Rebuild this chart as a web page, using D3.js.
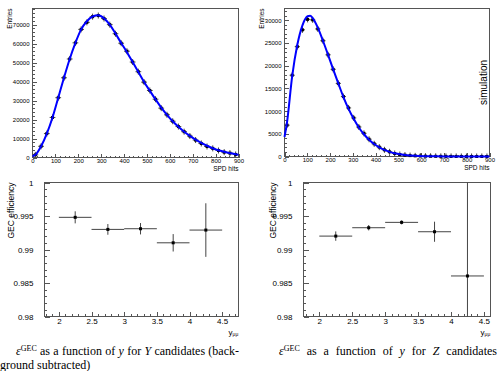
<!DOCTYPE html>

<head>
    <title>GEC efficiency</title>
    <meta charset="utf-8" />
</head>

<style>
    body {
        margin: 0;
        background: #ffffff;
    }

    .frame {
        fill: none;
        stroke: #555555;
        stroke-width: 1px;
        shape-rendering: crispEdges;
    }

    .axis path {
        display: none;
    }

    .axis line {
        stroke: #555555;
        stroke-width: 1px;
        shape-rendering: crispEdges;
    }

    .axis text,
    .label {
        font-family: "Liberation Sans", Arial, sans-serif;
        fill: #000000;
    }

    .fit {
        fill: none;
        stroke: #0000ff;
        stroke-width: 2px;
    }

    .err {
        stroke: #444444;
        stroke-width: 1px;
    }
</style>

<body>
    <svg id="chart" width="497" height="371"></svg>

    <script src="https://d3js.org/d3.v7.min.js"></script>

    <script>
        // ---- data: SPD hits, data (left)
        var spdCentersL = [12.5, 37.5, 62.5, 87.5, 112.5, 137.5, 162.5, 187.5, 212.5, 237.5, 262.5, 287.5,
            312.5, 337.5, 362.5, 387.5, 412.5, 437.5, 462.5, 487.5, 512.5, 537.5, 562.5, 587.5,
            612.5, 637.5, 662.5, 687.5, 712.5, 737.5, 762.5, 787.5, 812.5, 837.5, 862.5, 887.5];
        var spdWidthL = 25;
        var entriesL = [1400, 5900, 12600, 21100, 31500, 42000, 51900, 60400, 67500, 71200, 74200, 74800,
            73200, 70000, 65200, 60200, 56000, 50300, 45200, 39700, 35300, 30700, 26000, 22500,
            19100, 16300, 13600, 11300, 9200, 7400, 5800, 4800, 3700, 2800, 2300, 1600];
        var fitXL = [0, 12.5, 37.5, 62.5, 87.5, 112.5, 137.5, 162.5, 187.5, 212.5, 237.5, 262.5, 287.5,
            312.5, 337.5, 362.5, 387.5, 412.5, 437.5, 462.5, 487.5, 512.5, 537.5, 562.5, 587.5,
            612.5, 637.5, 662.5, 687.5, 712.5, 737.5, 762.5, 787.5, 812.5, 837.5, 862.5, 887.5, 900];
        var fitYL = [700, 1400, 5900, 12600, 21100, 31500, 42000, 51900, 60400, 67500, 71800, 74300, 74900,
            73300, 70000, 65300, 60300, 55500, 50300, 45000, 39800, 35200, 30600, 26300, 22500,
            19100, 16200, 13600, 11400, 9400, 7700, 6200, 4900, 3800, 3000, 2300, 1700, 1500];

        // ---- data: SPD hits, simulation (right)
        var spdCentersR = [11.25, 33.75, 56.25, 78.75, 101.25, 123.75, 146.25, 168.75, 191.25, 213.75,
            236.25, 258.75, 281.25, 303.75, 326.25, 348.75, 371.25, 393.75, 416.25, 438.75,
            461.25, 483.75, 506.25, 528.75, 551.25, 573.75, 596.25, 618.75, 641.25, 663.75,
            686.25, 708.75, 731.25, 753.75, 776.25, 798.75, 821.25, 843.75, 866.25, 888.75];
        var spdWidthR = 22.5;
        var entriesR = [6900, 17900, 24200, 27900, 30200, 30100, 28100, 25500, 22400, 19200,
            16100, 13200, 10700, 8500, 6500, 5100, 3800, 2800, 2060, 1470,
            1030, 660, 440, 300, 200, 140, 100, 70, 50, 35,
            25, 18, 12, 8, 6, 4, 3, 2, 1, 1];
        var fitXR = [0, 11.25, 33.75, 56.25, 78.75, 101.25, 112.5, 123.75, 146.25, 168.75, 191.25, 213.75,
            236.25, 258.75, 281.25, 303.75, 326.25, 348.75, 371.25, 393.75, 416.25, 438.75, 461.25,
            483.75, 528.75, 573.75, 618.75, 663.75, 708.75, 753.75, 798.75, 843.75, 900];
        var fitYR = [4300, 7600, 17700, 24600, 28900, 30900, 31000, 30500, 28400, 25500, 22400, 19200,
            16100, 13100, 10500, 8300, 6400, 4900, 3700, 2750, 2000, 1450, 1020,
            700, 330, 150, 70, 30, 14, 6, 3, 1, 0];

        var spdTicks = [0, 100, 200, 300, 400, 500, 600, 700, 800, 900];
        var entriesTicksL = [0, 10000, 20000, 30000, 40000, 50000, 60000, 70000];
        var entriesTicksR = [0, 5000, 10000, 15000, 20000, 25000, 30000];

        // ---- data: GEC efficiency vs rapidity
        var yLow = [2.0, 2.5, 3.0, 3.5, 4.0];
        var yHigh = [2.5, 3.0, 3.5, 4.0, 4.5];
        var yCenter = [2.25, 2.75, 3.25, 3.75, 4.25];
        var effUpsilon = [0.9948, 0.9930, 0.9931, 0.9910, 0.9929];
        var errUpsilon = [0.0009, 0.0008, 0.00085, 0.0013, 0.0040];
        var effZ = [0.9920, 0.99325, 0.99405, 0.99265, 0.98605];
        var errZ = [0.0007, 0.0004, 0.0003, 0.0015, 0.0200];

        var rapTicks = [2, 2.5, 3, 3.5, 4, 4.5];
        var effTicks = [0.98, 0.985, 0.99, 0.995, 1];

        var svg = d3.select("#chart");

        // frame + ticks (ROOT style, ticks inside the box)
        function drawAxes(g, x, y, w, h, o) {
            g.append("g")
                .attr("class", "axis")
                .attr("transform", "translate(0," + h + ")")
                .call(d3.axisBottom(x).tickValues(o.xMinor).tickSize(-o.minor).tickFormat(""));
            g.append("g")
                .attr("class", "axis")
                .attr("transform", "translate(0," + h + ")")
                .call(d3.axisBottom(x).tickValues(o.xTicks).tickSize(-o.major).tickPadding(o.xPad).tickFormat(o.xFormat))
                .selectAll("text").attr("font-size", o.font + "px");
            g.append("g")
                .attr("class", "axis")
                .call(d3.axisLeft(y).tickValues(o.yMinor).tickSize(-o.minor).tickFormat(""));
            g.append("g")
                .attr("class", "axis")
                .call(d3.axisLeft(y).tickValues(o.yTicks).tickSize(-o.major).tickPadding(o.yPad).tickFormat(o.yFormat))
                .selectAll("text").attr("font-size", o.font + "px");
            g.append("rect")
                .attr("class", "frame")
                .attr("width", w)
                .attr("height", h);
        }

        // histogram with fit
        function histPanel(left, top, w, h, ymax, centers, binW, vals, fx, fy, yTicks, yMinorStep) {
            var g = svg.append("g").attr("transform", "translate(" + left + "," + top + ")");
            var x = d3.scaleLinear().domain([0, 900]).range([0, w]);
            var y = d3.scaleLinear().domain([0, ymax]).range([h, 0]);

            drawAxes(g, x, y, w, h, {
                xTicks: spdTicks,
                xMinor: d3.range(0, 901, 20),
                yTicks: yTicks,
                yMinor: d3.range(0, ymax, yMinorStep),
                major: 4,
                minor: 2,
                font: 6,
                xPad: 1,
                yPad: 3,
                xFormat: function(d) { return d; },
                yFormat: function(d) { return d; }
            });

            var pts = g.append("g");
            pts.selectAll(".hbar")
                .data(vals)
                .enter().append("line")
                .attr("class", "err")
                .attr("x1", function(d, i) { return x(centers[i] - binW / 2); })
                .attr("x2", function(d, i) { return x(centers[i] + binW / 2); })
                .attr("y1", function(d) { return y(d); })
                .attr("y2", function(d) { return y(d); });
            pts.selectAll(".vbar")
                .data(vals)
                .enter().append("line")
                .attr("class", "err")
                .attr("x1", function(d, i) { return x(centers[i]); })
                .attr("x2", function(d, i) { return x(centers[i]); })
                .attr("y1", function(d) { return y(d) - 3; })
                .attr("y2", function(d) { return Math.min(h, y(d) + 3); });
            pts.selectAll(".dot")
                .data(vals)
                .enter().append("rect")
                .attr("x", function(d, i) { return x(centers[i]) - 1.5; })
                .attr("y", function(d) { return y(d) - 1.5; })
                .attr("width", 3)
                .attr("height", 3)
                .attr("fill", "#000000");

            var line = d3.line()
                .curve(d3.curveMonotoneX)
                .x(function(d, i) { return x(fx[i]); })
                .y(function(d) { return y(d); });
            g.append("path")
                .datum(fy)
                .attr("class", "fit")
                .attr("d", line);

            g.append("text")
                .attr("class", "label")
                .attr("x", w)
                .attr("y", h + 13)
                .attr("text-anchor", "end")
                .attr("font-size", "6.5px")
                .text("SPD hits");
            g.append("text")
                .attr("class", "label")
                .attr("transform", "translate(" + (-21) + ",0) rotate(-90)")
                .attr("text-anchor", "end")
                .attr("font-size", "6.5px")
                .text("Entries");
            return g;
        }

        // efficiency vs y
        function effPanel(left, top, w, h, xdom, eff, err, titleX) {
            var g = svg.append("g").attr("transform", "translate(" + left + "," + top + ")");
            var x = d3.scaleLinear().domain(xdom).range([0, w]);
            var y = d3.scaleLinear().domain([0.98, 1]).range([h, 0]);

            drawAxes(g, x, y, w, h, {
                xTicks: rapTicks,
                xMinor: d3.range(1.8, xdom[1], 0.1),
                yTicks: effTicks,
                yMinor: d3.range(0.98, 1.0001, 0.001),
                major: 5,
                minor: 2.5,
                font: 8,
                xPad: 1.5,
                yPad: 11,
                xFormat: function(d) { return d; },
                yFormat: function(d) { return +d.toFixed(3); }
            });

            var marks = g.append("g");
            marks.selectAll(".hbar")
                .data(eff)
                .enter().append("line")
                .attr("class", "err")
                .attr("x1", function(d, i) { return x(yLow[i]); })
                .attr("x2", function(d, i) { return x(yHigh[i]); })
                .attr("y1", function(d) { return y(d); })
                .attr("y2", function(d) { return y(d); });
            marks.selectAll(".vbar")
                .data(eff)
                .enter().append("line")
                .attr("class", "err")
                .attr("x1", function(d, i) { return x(yCenter[i]); })
                .attr("x2", function(d, i) { return x(yCenter[i]); })
                .attr("y1", function(d, i) { return Math.max(0, y(d + err[i])); })
                .attr("y2", function(d, i) { return Math.min(h, y(d - err[i])); });
            marks.selectAll(".dot")
                .data(eff)
                .enter().append("rect")
                .attr("x", function(d, i) { return x(yCenter[i]) - 1.5; })
                .attr("y", function(d) { return y(d) - 1.5; })
                .attr("width", 3)
                .attr("height", 3)
                .attr("fill", "#000000");

            g.append("text")
                .attr("class", "label")
                .attr("transform", "translate(" + titleX + ",0) rotate(-90)")
                .attr("text-anchor", "end")
                .attr("font-size", "8.5px")
                .text("GEC efficiency");

            var t = g.append("text")
                .attr("class", "label")
                .attr("x", w - 10)
                .attr("y", h + 18)
                .attr("font-size", "8px");
            t.append("tspan").text("y");
            t.append("tspan").attr("font-size", "5px").attr("dy", "1.5").text("μμ");
            return g;
        }

        histPanel(32.5, 8.5, 206, 149, 78500, spdCentersL, spdWidthL, entriesL, fitXL, fitYL, entriesTicksL, 2000);
        var gr = histPanel(284.5, 8.5, 205, 148, 32600, spdCentersR, spdWidthR, entriesR, fitXR, fitYR, entriesTicksR, 1000);
        gr.append("text")
            .attr("class", "label")
            .attr("transform", "translate(202,74) rotate(-90)")
            .attr("text-anchor", "middle")
            .attr("font-size", "10px")
            .text("simulation");

        effPanel(44.5, 182.5, 194, 134, [1.78, 4.75], effUpsilon, errUpsilon, -31);
        effPanel(303.5, 182.5, 187, 134, [1.76, 4.6], effZ, errZ, -28);

        // captions (LaTeX style, serif, justified through word spacing)
        var serif = "'Liberation Serif', 'DejaVu Serif', 'Times New Roman', serif";

        function caption(x, y, part, tail, width) {
            var t = svg.append("text")
                .attr("x", x)
                .attr("y", y)
                .style("font-family", serif)
                .style("font-size", "12px")
                .attr("fill", "#000000");
            t.append("tspan").style("font-style", "italic").text("ε");
            t.append("tspan").style("font-size", "8px").attr("dy", "-4.5").text("GEC");
            t.append("tspan").attr("dy", "4.5").text(" as a function of ");
            t.append("tspan").style("font-style", "italic").text("y");
            t.append("tspan").text(" for ");
            t.append("tspan").style("font-style", "italic").text(part);
            t.append("tspan").text(tail);
            var spaces = t.text().split(" ").length - 1;
            var natural = t.node().getComputedTextLength();
            t.style("word-spacing", ((width - natural) / spaces) + "px");
        }
        caption(16, 355, "Υ", " candidates (back-", 223);
        svg.append("text")
            .attr("x", 0)
            .attr("y", 369)
            .style("font-family", serif)
            .style("font-size", "12px")
            .attr("fill", "#000000")
            .text("ground subtracted)");
        caption(279, 355, "Z", " candidates", 218);
    </script>
</body>
